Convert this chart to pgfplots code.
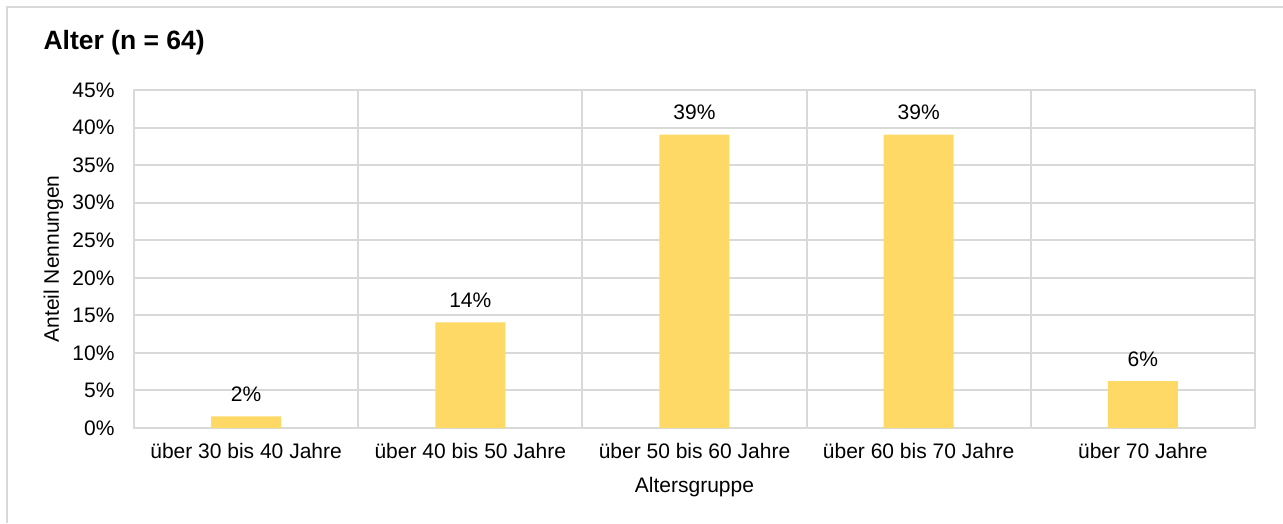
\documentclass[border=0pt]{standalone}
\usepackage{fontspec}
\setmainfont{Liberation Sans}
\usepackage{pgfplots}
\pgfplotsset{compat=1.18}
\definecolor{gridgray}{HTML}{D9D9D9}
\definecolor{bargold}{HTML}{FFD966}
\begin{document}
\begin{tikzpicture}[x=1pt,y=1pt]
\useasboundingbox (0,0) rectangle (1283,523);
\draw[gridgray, line width=2pt] (7,0) -- (7,516) -- (1283,516);
\node[anchor=base west, font=\fontsize{26.5}{30}\selectfont\bfseries] at (40,473) {Alter (n = 64)};
\begin{axis}[
  at={(134pt,95pt)}, anchor=south west,
  scale only axis, width=1121pt, height=338pt,
  xmin=-0.5, xmax=4.5, ymin=0, ymax=45,
  ybar, bar width=70pt,
  xtick={0,1,2,3,4},
  xticklabels={über 30 bis 40 Jahre, über 40 bis 50 Jahre, über 50 bis 60 Jahre, über 60 bis 70 Jahre, über 70 Jahre},
  minor xtick={-0.5,0.5,1.5,2.5,3.5,4.5},
  ytick={0,5,...,45},
  yticklabels={0\%,5\%,10\%,15\%,20\%,25\%,30\%,35\%,40\%,45\%},
  major tick length=0pt, minor tick length=0pt,
  ymajorgrids, xminorgrids,
  grid style={gridgray, line width=2pt},
  axis line style={gridgray, line width=2pt},
  tick label style={font=\fontsize{21}{24}\selectfont, text=black},
  yticklabel style={xshift=-16pt},
  xticklabel style={yshift=-12pt},
  xlabel={Altersgruppe},
  ylabel={Anteil Nennungen},
  xlabel style={font=\fontsize{21}{24}\selectfont, at={(axis description cs:0.5,0)}, anchor=base, yshift=-64pt},
  ylabel style={font=\fontsize{21}{24}\selectfont, at={(axis description cs:-0.0718,0.5)}, anchor=center},
  nodes near coords,
  point meta=explicit symbolic,
  every node near coord/.append style={font=\fontsize{21}{24}\selectfont, text=black, yshift=11pt},
]
\addplot[fill=bargold, draw=none] coordinates {
  (0,1.5625) [2\%]
  (1,14.0625) [14\%]
  (2,39.0625) [39\%]
  (3,39.0625) [39\%]
  (4,6.25) [6\%]
};
\end{axis}
\end{tikzpicture}
\end{document}
